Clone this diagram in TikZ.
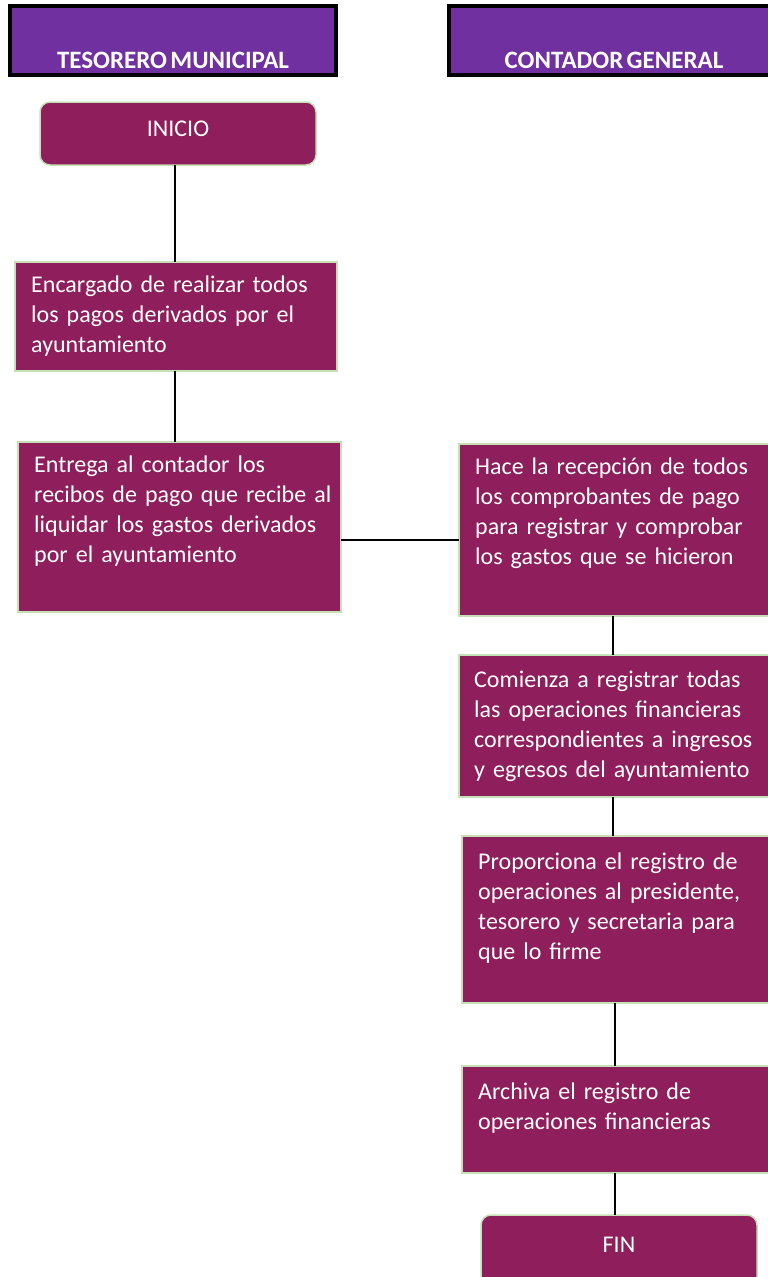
\documentclass[tikz,border=0pt]{standalone}
\usepackage{fontspec}
\setmainfont[WordSpace=0.6]{Carlito}
\usetikzlibrary{positioning}

\definecolor{lanepurple}{HTML}{7030A0}
\definecolor{berry}{HTML}{8E1E5C}
\definecolor{paleedge}{HTML}{C5E0B4}

\begin{document}
\begin{tikzpicture}[x=1pt, y=-1pt,
    lanehead/.style={draw=black, line width=4pt, fill=lanepurple, inner sep=0pt, outer sep=0pt, anchor=north west},
    headtxt/.style={text=white, font=\fontsize{25}{28}\selectfont\bfseries, anchor=base, inner sep=0pt},
    stepbox/.style={draw=paleedge, line width=1.5pt, fill=berry, inner sep=0pt, outer sep=0pt, anchor=north west},
    endbox/.style={stepbox, rounded corners=10pt},
    endtxt/.style={text=white, font=\fontsize{24}{30}\selectfont, anchor=base, inner sep=0pt},
    steptxt/.style={text=white, font=\fontsize{24}{30}\selectfont, align=left, text width=330pt,
        inner sep=0pt, anchor=north west, execute at begin node=\strut},
    flow/.style={black, line width=1.2pt}]
    \useasboundingbox (0,0) rectangle (768,1277);
    \clip (0,0) rectangle (768,1277);

    % carriles
    \node[lanehead, minimum width=326pt, minimum height=69pt] (tesorero) at (10,6) {};
    \node[lanehead, minimum width=330pt, minimum height=69pt] (contador) at (449,6) {};
    \node[headtxt] at (tesorero.center |- 0,68) {TESORERO MUNICIPAL};
    \node[headtxt] at (contador.center |- 0,68) {CONTADOR GENERAL};

    % pasos del tesorero
    \node[endbox, minimum width=276pt, minimum height=63pt] (inicio) at (40,102) {};
    \node[stepbox, minimum width=322pt, minimum height=109pt] (encargado) at (15,262) {};
    \node[stepbox, minimum width=323pt, minimum height=170pt] (entrega) at (18,442) {};

    % pasos del contador
    \node[stepbox, minimum width=312pt, minimum height=172pt] (recepcion) at (459,444) {};
    \node[stepbox, minimum width=312pt, minimum height=142pt] (registra) at (459,655) {};
    \node[stepbox, minimum width=310pt, minimum height=167pt] (proporciona) at (462,836) {};
    \node[stepbox, minimum width=310pt, minimum height=107pt] (archiva) at (462,1066) {};
    \node[endbox, minimum width=276pt, minimum height=80pt] (fin) at (481,1215) {};

    % textos
    \node[endtxt] at (inicio.center |- 0,136) {INICIO};
    \node[endtxt] at (fin.center |- 0,1252) {FIN};
    \node[steptxt] at ([shift={(16,9)}]encargado.north west)
        {Encargado de realizar todos\\los pagos derivados por el\\ayuntamiento};
    \node[steptxt] at ([shift={(16,9)}]entrega.north west)
        {Entrega al contador los\\recibos de pago que recibe al\\liquidar los gastos derivados\\por el ayuntamiento};
    \node[steptxt] at ([shift={(16,9)}]recepcion.north west)
        {Hace la recepción de todos\\los comprobantes de pago\\para registrar y comprobar\\los gastos que se hicieron};
    \node[steptxt] at ([shift={(15,11)}]registra.north west)
        {Comienza a registrar todas\\las operaciones financieras\\correspondientes a ingresos\\y egresos del ayuntamiento};
    \node[steptxt] at ([shift={(16,12)}]proporciona.north west)
        {Proporciona el registro de\\operaciones al presidente,\\tesorero y secretaria para\\que lo firme};
    \node[steptxt] at ([shift={(16,12)}]archiva.north west)
        {Archiva el registro de\\operaciones financieras};

    % conectores
    \draw[flow] ([xshift=-3pt]inicio.south) -- ([xshift=-3pt]inicio.south |- encargado.north);
    \draw[flow] ([xshift=-1pt]encargado.south) -- ([xshift=-1pt]encargado.south |- entrega.north);
    \draw[flow] ([yshift=-13pt]entrega.east) -- ([yshift=-13pt]entrega.east -| recepcion.west);
    \draw[flow] ([xshift=-2pt]recepcion.south) -- ([xshift=-2pt]recepcion.south |- registra.north);
    \draw[flow] ([xshift=-2pt]registra.south) -- ([xshift=-2pt]registra.south |- proporciona.north);
    \draw[flow] ([xshift=-2pt]proporciona.south) -- ([xshift=-2pt]proporciona.south |- archiva.north);
    \draw[flow] ([xshift=-2pt]archiva.south) -- ([xshift=-2pt]archiva.south |- fin.north);
\end{tikzpicture}
\end{document}
